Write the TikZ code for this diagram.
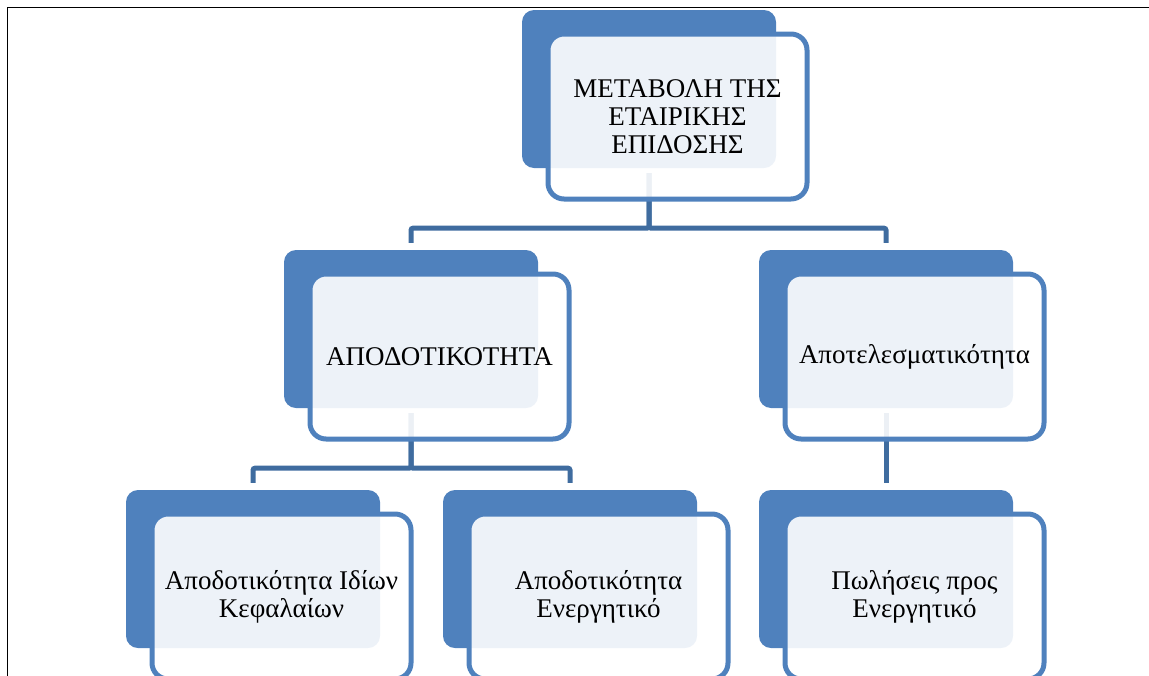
\documentclass[tikz,border=0pt]{standalone}
\usepackage{fontspec}
\setmainfont{Liberation Serif}
\definecolor{accent}{HTML}{4F81BD}
\definecolor{connblue}{HTML}{3F6C9F}
\tikzset{
  backbox/.style={rectangle, rounded corners=12pt, fill=accent, minimum width=254pt, minimum height=158pt, inner sep=0pt},
  frontbox/.style={rectangle, rounded corners=16pt, draw=accent, line width=5pt, fill=white, fill opacity=0.9, text opacity=1, minimum width=259pt, minimum height=165pt, align=center, inner sep=0pt, font=\fontsize{27}{27.7}\selectfont},
  conn/.style={draw=connblue, line width=5pt, rounded corners=2pt},
  frameline/.style={draw=black, line width=1.8pt}
}
\begin{document}
\begin{tikzpicture}[x=1pt,y=-1pt]
\useasboundingbox (0,0) rectangle (1149,675);
\clip (0,0) rectangle (1149,675);
\coordinate (fTL) at (7.5,7.5);
\coordinate (fTR) at (1150,7.5);
\coordinate (fBL) at (7.5,676);
\draw[frameline] (fTR) -- (fTL) -- (fBL);
% back boxes
\node[backbox] (b0) at (649,89) {};
\node[backbox] (b1) at (411,329) {};
\node[backbox] (b2) at (886,329) {};
\node[backbox] (b3) at (253,569) {};
\node[backbox] (b4) at (570,569) {};
\node[backbox] (b5) at (886,569) {};
% connectors
\draw[conn] ([yshift=-5pt]b0.south) -- ++(0,55) -| ([yshift=7pt]b1.north);
\draw[conn] ([yshift=-5pt]b0.south) -- ++(0,55) -| ([yshift=7pt]b2.north);
\draw[conn] ([yshift=-5pt]b1.south) -- ++(0,55) -| ([yshift=7pt]b3.north);
\draw[conn] ([yshift=-5pt]b1.south) -- ++(0,55) -| ([yshift=7pt]b4.north);
\draw[conn] ([yshift=-5pt]b2.south) -- ([yshift=7pt]b5.north);
% front boxes
\node[frontbox] (f0) at ([shift={(28.5,27.5)}]b0.center) {ΜΕΤΑΒΟΛΗ ΤΗΣ\\ΕΤΑΙΡΙΚΗΣ\\ΕΠΙΔΟΣΗΣ};
\node[frontbox] (f1) at ([shift={(28.5,27.5)}]b1.center) {ΑΠΟΔΟΤΙΚΟΤΗΤΑ};
\node[frontbox] (f2) at ([shift={(28.5,27.5)}]b2.center) {Αποτελεσματικότητα};
\node[frontbox] (f3) at ([shift={(28.5,27.5)}]b3.center) {Αποδοτικότητα Ιδίων\\Κεφαλαίων};
\node[frontbox] (f4) at ([shift={(28.5,27.5)}]b4.center) {Αποδοτικότητα\\Ενεργητικό};
\node[frontbox] (f5) at ([shift={(28.5,27.5)}]b5.center) {Πωλήσεις προς\\Ενεργητικό};
\end{tikzpicture}
\end{document}
